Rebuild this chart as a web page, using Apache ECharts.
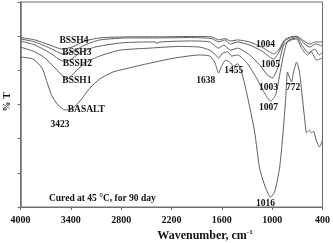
<!DOCTYPE html>
<html><head><meta charset="utf-8">
<script src="https://cdn.jsdelivr.net/npm/echarts@6/dist/echarts.min.js"></script>
<style>html,body{margin:0;padding:0;background:#fff}#c{width:333px;height:243px}</style>
</head><body><div id="c"></div>
<script>
// Wavenumber (cm-1) / %T pairs
const bssh4 = [[4000,49.6],[3827,48.9],[3649,47.4],[3506,46.2],[3387,46.8],[3232,48.6],[3054,49.5],[2697,49.8],[2340,49.8],[1983,49.9],[1721,49.8],[1638,48.9],[1566,49.3],[1495,48.6],[1412,48.9],[1269,48.3],[1126,46.8],[1031,45.4],[983,44.8],[924,45.9],[852,48.9],[781,49.8],[709,50.0],[638,48.9],[555,47.7],[483,48.3],[400,48.3]];
const bssh3 = [[4000,49.2],[3827,48.3],[3649,46.5],[3494,44.8],[3387,45.4],[3232,47.4],[3054,48.9],[2697,49.5],[2340,49.5],[1983,49.6],[1721,49.3],[1638,48.3],[1566,48.9],[1495,47.7],[1412,48.3],[1269,47.4],[1126,45.7],[1031,43.9],[983,43.3],[924,45.1],[852,48.6],[781,49.5],[709,49.8],[638,48.3],[555,46.8],[483,47.7],[400,47.1]];
const bssh2 = [[4000,48.6],[3827,47.4],[3649,45.1],[3494,42.7],[3411,43.0],[3292,45.1],[3113,46.8],[2816,48.0],[2518,48.3],[2387,48.3],[2376,47.9],[2340,48.3],[1983,48.6],[1745,48.3],[1638,46.5],[1578,47.4],[1495,45.9],[1412,46.5],[1269,44.5],[1150,41.6],[1055,38.6],[995,37.8],[935,40.7],[864,47.4],[793,48.9],[709,49.5],[638,47.1],[567,45.1],[495,46.2],[436,44.5],[400,45.4]];
const bssh1 = [[4000,46.8],[3827,45.4],[3708,43.6],[3589,40.7],[3494,38.3],[3435,37.5],[3351,39.5],[3232,42.1],[3054,44.2],[2816,45.9],[2459,46.5],[2102,47.0],[1864,46.8],[1745,45.9],[1673,44.5],[1638,43.6],[1590,45.1],[1531,45.4],[1483,44.2],[1412,44.5],[1293,41.9],[1174,37.2],[1079,32.8],[1019,31.0],[959,32.8],[888,41.6],[828,48.0],[769,48.9],[709,49.2],[650,46.5],[579,44.5],[531,45.4],[472,43.0],[400,43.6]];
const basalt = [[4000,43.9],[3851,43.3],[3744,40.7],[3685,36.6],[3625,32.5],[3554,29.9],[3470,28.4],[3387,28.7],[3292,31.0],[3173,34.8],[3054,37.5],[2899,39.5],[2756,40.4],[2459,42.1],[2161,43.6],[1864,44.5],[1745,44.2],[1685,42.4],[1638,39.2],[1602,41.3],[1554,43.0],[1507,42.4],[1459,41.3],[1412,41.9],[1364,39.5],[1293,32.2],[1209,22.0],[1150,11.4],[1079,5.6],[1019,2.9],[971,4.4],[912,11.4],[876,20.2],[840,31.3],[817,39.5],[793,37.8],[769,36.6],[745,39.5],[709,42.4],[674,39.5],[650,34.2],[614,26.1],[590,21.7],[555,22.5],[531,21.7],[507,22.2],[472,19.3],[436,17.6],[400,19.6]];

const xTicks = [4000,3400,2800,2200,1600,1000,400];
// annotation texts and their anchor positions in data coordinates
const noteTexts = ['BSSH4','BSSH3','BSSH2','BSSH1','BASALT','3423','1638','1455','1004','1005','1003','1007','772','1016','Cured at 45 °C, for 90 day'];
const noteX = [3363,3328,3322,3328,3215,3530,1792,1459,1078,1019,1043,1043,751,1078,3024];
const noteY = [48.6,45.2,42.0,37.0,28.5,24.0,37.0,39.8,47.6,41.7,35.0,29.1,35.0,0.9,2.6];

const FONT = '"Liberation Serif","Times New Roman",serif';
const LINE = '#5e5e5e';
const chart = echarts.init(document.getElementById('c'));
const mk = (name, d) => ({name, type:'line', data:d, showSymbol:false, smooth:0.2,
  lineStyle:{color:LINE, width:1}, silent:true, animation:false});
chart.setOption({
  animation:false,
  grid:{left:20.5, top:2, right:10, bottom:36},
  xAxis:{type:'value', inverse:true, min:400, max:4000, interval:600,
    axisLine:{onZero:false, lineStyle:{color:'#6e6e6e', width:1}},
    axisTick:{show:true, length:3, inside:false, lineStyle:{color:'#6e6e6e'}},
    axisLabel:{fontFamily:FONT, fontWeight:'bold', fontSize:10, color:'#111', margin:8,
      formatter: v => xTicks.includes(v) ? String(v) : ''},
    splitLine:{show:false}},
  yAxis:{type:'value', min:0, max:60, interval:10,
    axisLine:{show:true, lineStyle:{color:'#6e6e6e', width:1.5}},
    axisTick:{show:true, length:3, inside:false, lineStyle:{color:'#6e6e6e'}},
    axisLabel:{show:false}, splitLine:{show:false}},
  series:[mk('BSSH4',bssh4), mk('BSSH3',bssh3), mk('BSSH2',bssh2), mk('BSSH1',bssh1), mk('BASALT',basalt)]
});
const g = [];
const tl = chart.convertToPixel({gridIndex:0}, [4000,60]);
const br = chart.convertToPixel({gridIndex:0}, [400,0]);
g.push({type:'rect', shape:{x:tl[0], y:tl[1], width:br[0]-tl[0], height:br[1]-tl[1]},
  style:{fill:'none', stroke:'#6e6e6e', lineWidth:1}, silent:true, z:-1});
noteTexts.forEach((t,i) => {
  const p = chart.convertToPixel({gridIndex:0}, [noteX[i], noteY[i]]);
  g.push({type:'text', x:p[0], y:p[1], silent:true, z:10,
    style:{text:t, fontFamily:FONT, fontWeight:'bold', fontSize:9.5, fill:'#111',
      align:'center', verticalAlign:'middle'}});
});
g.push({type:'text', x:205, y:236, silent:true,
  style:{text:'{a|Wavenumber, cm}{b|-1}', align:'center', verticalAlign:'middle',
    rich:{a:{fontFamily:FONT, fontWeight:'bold', fontSize:12, fill:'#111', lineHeight:14},
          b:{fontFamily:FONT, fontWeight:'bold', fontSize:7, fill:'#111', verticalAlign:'top', lineHeight:14, padding:[0,0,6,0]}}}});
g.push({type:'text', x:7.5, y:102, rotation:Math.PI/2, silent:true,
  style:{text:'% T', fontFamily:FONT, fontWeight:'bold', fontSize:10, fill:'#111', align:'center', verticalAlign:'middle'}});
chart.setOption({graphic:g});
</script></body></html>
